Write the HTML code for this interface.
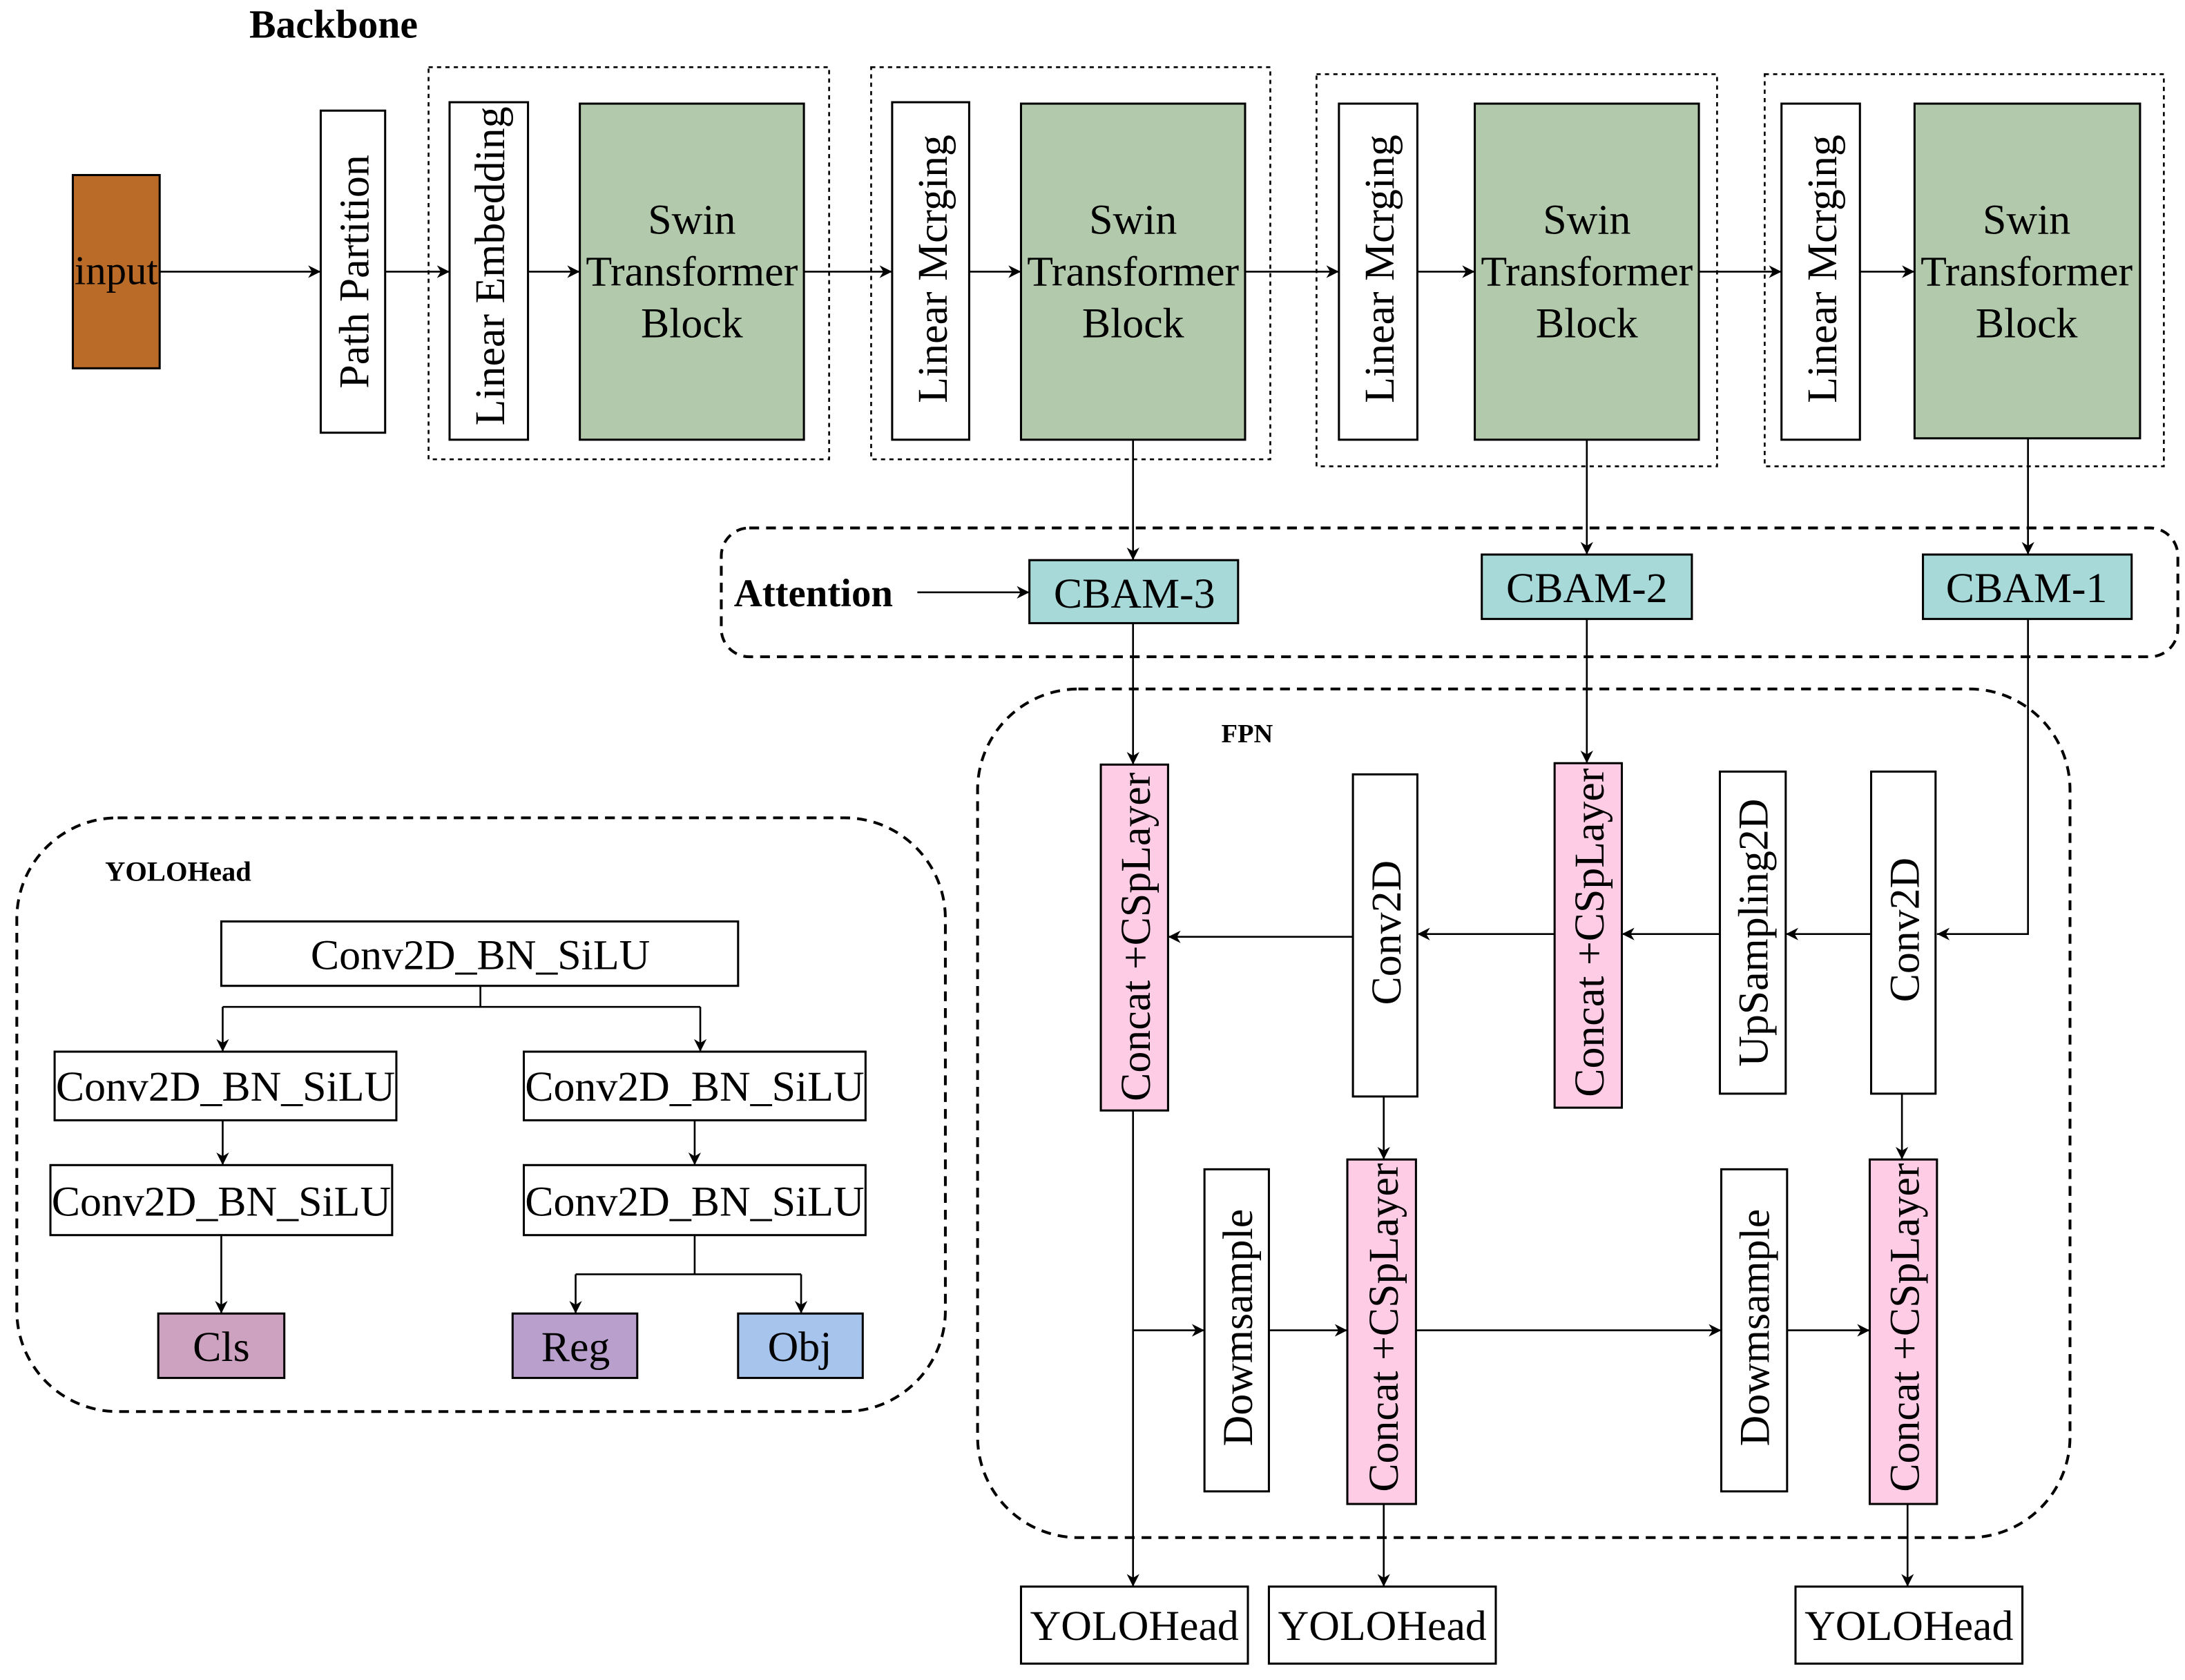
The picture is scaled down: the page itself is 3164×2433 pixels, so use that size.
<!DOCTYPE html>
<html><head><meta charset="utf-8"><style>
html,body{margin:0;padding:0;background:#fff;}
svg{display:block;}
text{font-family:"Liberation Serif",serif;fill:#000;}
</style></head><body>
<svg width="3164" height="2433" viewBox="0 0 1560.1 1199.7" preserveAspectRatio="none" xmlns="http://www.w3.org/2000/svg">
<defs>
<marker id="a" viewBox="0 0 10 10" refX="10" refY="5" markerWidth="9" markerHeight="9" markerUnits="userSpaceOnUse" orient="auto"><path d="M0,0 L10,5 L0,10 L3,5 z" fill="#000"/></marker>
</defs>
<g stroke="#000" stroke-width="1.3" fill="none">
<g stroke-dasharray="3,3">
<rect x="306" y="48" width="286" height="280"/>
<rect x="622" y="48" width="285" height="280"/>
<rect x="940" y="53" width="286" height="280"/>
<rect x="1260" y="53" width="285" height="280"/>
</g>
<g stroke-dasharray="7,5" stroke-width="2">
<rect x="515" y="377" width="1040" height="92" rx="20"/>
<rect x="698" y="492" width="780" height="606" rx="72"/>
<rect x="12" y="584" width="663" height="424" rx="72"/>
</g>
</g>
<g stroke="#000" stroke-width="1.5">
<rect x="52" y="125" width="62" height="138" fill="#BA6B27"/>
<rect x="229" y="79" width="46" height="230" fill="#fff"/>
<rect x="321" y="73" width="56" height="241" fill="#fff"/>
<rect x="414" y="74" width="160" height="240" fill="#B2C9AB"/>
<rect x="637" y="73" width="55" height="241" fill="#fff"/>
<rect x="729" y="74" width="160" height="240" fill="#B2C9AB"/>
<rect x="956" y="74" width="56" height="240" fill="#fff"/>
<rect x="1053" y="74" width="160" height="240" fill="#B2C9AB"/>
<rect x="1272" y="74" width="56" height="240" fill="#fff"/>
<rect x="1367" y="74" width="161" height="239" fill="#B2C9AB"/>
<rect x="735" y="400" width="149" height="45" fill="#A8D9D9"/>
<rect x="1058" y="396" width="150" height="46" fill="#A8D9D9"/>
<rect x="1373" y="396" width="149" height="46" fill="#A8D9D9"/>
<rect x="786" y="546" width="48" height="247" fill="#FFCCE5"/>
<rect x="1110" y="545" width="48" height="246" fill="#FFCCE5"/>
<rect x="962" y="828" width="49" height="246" fill="#FFCCE5"/>
<rect x="1335" y="828" width="48" height="246" fill="#FFCCE5"/>
<rect x="966" y="553" width="46" height="230" fill="#fff"/>
<rect x="1336" y="551" width="46" height="230" fill="#fff"/>
<rect x="1228" y="551" width="47" height="230" fill="#fff"/>
<rect x="860" y="835" width="46" height="230" fill="#fff"/>
<rect x="1229" y="835" width="47" height="230" fill="#fff"/>
<rect x="729" y="1133" width="162" height="55" fill="#fff"/>
<rect x="906" y="1133" width="162" height="55" fill="#fff"/>
<rect x="1282" y="1133" width="162" height="55" fill="#fff"/>
<rect x="158" y="658" width="369" height="46" fill="#fff"/>
<rect x="39" y="751" width="244" height="49" fill="#fff"/>
<rect x="374" y="751" width="244" height="49" fill="#fff"/>
<rect x="36" y="832" width="244" height="50" fill="#fff"/>
<rect x="374" y="832" width="244" height="50" fill="#fff"/>
<rect x="113" y="938" width="90" height="46" fill="#CDA2C0"/>
<rect x="366" y="938" width="89" height="46" fill="#B9A0CC"/>
<rect x="527" y="938" width="89" height="46" fill="#A7C4EC"/>
</g>
<g stroke="#000" stroke-width="1.3" fill="none" marker-end="url(#a)">
<path d="M114,194 H229"/><path d="M275,194 H321"/><path d="M377,194 H414"/>
<path d="M574,194 H637"/><path d="M692,194 H729"/><path d="M889,194 H956"/>
<path d="M1012,194 H1053"/><path d="M1213,194 H1272"/><path d="M1328,194 H1367"/>
<path d="M809,314 V400"/><path d="M1133,314 V396"/><path d="M1448,313 V396"/>
<path d="M655,423 H735"/>
<path d="M809,445 V546"/><path d="M1133,442 V545"/><path d="M1448,442 V667 H1383"/>
<path d="M1336,667 H1275"/><path d="M1228,667 H1158"/><path d="M1110,667 H1012"/><path d="M966,669 H834"/>
<path d="M988,783 V828"/><path d="M1358,781 V828"/>
<path d="M809,793 V1133"/><path d="M809,950 H860"/><path d="M906,950 H962"/>
<path d="M1011,950 H1229"/><path d="M1276,950 H1335"/>
<path d="M988,1074 V1133"/><path d="M1362,1074 V1133"/>
<path d="M159,719 V751"/><path d="M500,719 V751"/>
<path d="M159,800 V832"/><path d="M496,800 V832"/>
<path d="M158,882 V938"/><path d="M411,910 V938"/><path d="M572,910 V938"/>
</g>
<g stroke="#000" stroke-width="1.3" fill="none">
<path d="M343,704 V719 M159,719 H500"/><path d="M496,882 V910 M411,910 H572"/>
</g>
<text x="178" y="27" font-size="28.5" font-weight="bold">Backbone</text>
<text x="83" y="203" font-size="29" text-anchor="middle">input</text>
<g font-size="30.5" text-anchor="middle">
<text x="494" y="167">Swin</text><text x="494" y="204">Transformer</text><text x="494" y="241">Block</text>
<text x="809" y="167">Swin</text><text x="809" y="204">Transformer</text><text x="809" y="241">Block</text>
<text x="1133" y="167">Swin</text><text x="1133" y="204">Transformer</text><text x="1133" y="241">Block</text>
<text x="1447" y="167">Swin</text><text x="1447" y="204">Transformer</text><text x="1447" y="241">Block</text>
<text x="810" y="434">CBAM-3</text><text x="1133" y="430">CBAM-2</text><text x="1447" y="430">CBAM-1</text>
<text x="810" y="1171">YOLOHead</text><text x="987" y="1171">YOLOHead</text><text x="1363" y="1171">YOLOHead</text>
<text x="343" y="692">Conv2D_BN_SiLU</text>
<text x="161" y="786">Conv2D_BN_SiLU</text><text x="496" y="786">Conv2D_BN_SiLU</text>
<text x="158" y="868">Conv2D_BN_SiLU</text><text x="496" y="868">Conv2D_BN_SiLU</text>
<text x="158" y="972">Cls</text><text x="411" y="972">Reg</text><text x="571" y="972">Obj</text>
</g>
<g font-size="30.5" text-anchor="middle">
<text transform="translate(263,194) rotate(-90)">Path Partition</text>
<text transform="translate(360,190) rotate(-90)">Linear Embedding</text>
<text transform="translate(676,192) rotate(-90)">Linear Mcrging</text>
<text transform="translate(995,192) rotate(-90)">Linear Mcrging</text>
<text transform="translate(1311,192) rotate(-90)">Linear Mcrging</text>
<text transform="translate(821,669) rotate(-90)">Concat +CSpLayer</text>
<text transform="translate(1145,666) rotate(-90)">Concat +CSpLayer</text>
<text transform="translate(998,948) rotate(-90)">Concat +CSpLayer</text>
<text transform="translate(1370,948) rotate(-90)">Concat +CSpLayer</text>
<text transform="translate(1000,666) rotate(-90)">Conv2D</text>
<text transform="translate(1370,664) rotate(-90)">Conv2D</text>
<text transform="translate(1262,666) rotate(-90)">UpSampling2D</text>
<text transform="translate(894,948) rotate(-90)">Dowmsample</text>
<text transform="translate(1263,948) rotate(-90)">Dowmsample</text>
</g>
<text x="524" y="433" font-size="28" font-weight="bold">Attention</text>
<text x="872" y="530" font-size="19" font-weight="bold">FPN</text>
<text x="75" y="629" font-size="20" font-weight="bold">YOLOHead</text>
</svg>
</body></html>
